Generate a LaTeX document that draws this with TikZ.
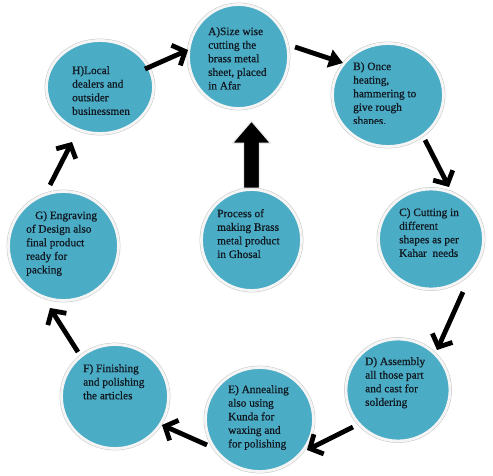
\documentclass[tikz,border=0pt]{standalone}
\usepackage{fontspec}
\setmainfont{Liberation Serif}[FakeBold=0.6]
\usetikzlibrary{arrows.meta,shapes.geometric}
\definecolor{cfill}{HTML}{4BACC6}
\definecolor{ctext}{HTML}{101820}
\begin{document}
\begin{tikzpicture}[x=1pt,y=-1pt,
  circ/.style={ellipse, fill=cfill, draw=white!92!gray, line width=2.8pt, inner sep=0pt,
    preaction={draw=gray!45, line width=3.8pt}},
  txt/.style={anchor=north west, inner sep=0pt, align=left, text=ctext,
    font=\fontsize{11.3}{13.6}\selectfont},
  arr/.style={line width=4.8pt, -{Straight Barb[length=10pt,width=22pt]}},
  arrT/.style={line width=4.8pt, -{Triangle[length=14pt,width=18pt]}}]
\useasboundingbox (0,0) rectangle (493,475);

% circles
\node[circ, minimum width=100pt, minimum height=104pt] (A) at (238.5,56.5) {};
\node[circ, minimum width=111pt, minimum height=103pt] (B) at (388,95) {};
\node[circ, minimum width=105pt, minimum height=100pt] (C) at (431,239) {};
\node[circ, minimum width=104pt, minimum height=102pt] (D) at (398,390) {};
\node[circ, minimum width=108pt, minimum height=104pt] (E) at (259.5,419.5) {};
\node[circ, minimum width=107pt, minimum height=104pt] (F) at (115,396.5) {};
\node[circ, minimum width=110pt, minimum height=109pt] (G) at (63.5,246) {};
\node[circ, minimum width=107pt, minimum height=93pt] (H) at (100,87) {};
\node[circ, minimum width=100pt, minimum height=101pt] (P) at (251.5,240) {};

% texts
\node[txt] (tA) at (208,27) {A)Size wise\\cutting the\\brass metal\\sheet, placed\\in Afar};
\begin{scope}
\clip (300,40) rectangle (460,123.5);
\node[txt] (tB) at (353,62) {B) Once\\heating,\\hammering to\\give rough\\shapes.};
\end{scope}
\node[txt] (tC) at (399,208) {C) Cutting in\\different\\shapes as per\\Kahar~~needs};
\node[txt] (tD) at (365,357) {D) Assembly\\all those part\\and cast for\\soldering};
\node[txt] (tE) at (228,385) {E) Annealing\\also using\\Kunda for\\waxing and\\for polishing};
\node[txt] (tF) at (83,364) {F) Finishing\\and polishing\\the articles};
\node[txt] (tG) at (26,211) {\hspace*{9pt}G) Engraving\\of Design also\\final product\\ready for\\packing};
\node[txt] (tH) at (72,66) {H)Local\\dealers and\\outsider\\businessmen};
\node[txt] (tP) at (217,209) {Process of\\making Brass\\metal product\\in Ghosal};

% block arrow from centre to A
\draw[fill=black, draw=white!85!gray, line width=1.2pt]
  ([shift={(-8,0)}]P.north) -- ([shift={(-8,-45)}]P.north) -- ([shift={(-19,-45)}]P.north)
  -- ([shift={(0,-67)}]P.north) -- ([shift={(19,-45)}]P.north) -- ([shift={(8,-45)}]P.north)
  -- ([shift={(8,0)}]P.north) -- cycle;

% cycle arrows
\draw[arr]  ([shift={(45,-18)}]H.center) -- ([shift={(-50.5,-6.5)}]A.center);
\draw[arrT] ([shift={(56.5,-9.5)}]A.center) -- ([shift={(-45,-32)}]B.center);
\draw[arr]  ([shift={(37,45)}]B.center) -- ([shift={(18,-52)}]C.center);
\draw[arr]  ([shift={(32,53)}]C.center) -- ([shift={(39,-40)}]D.center);
\draw[arr]  ([shift={(-45,37)}]D.center) -- ([shift={(47.5,30.5)}]E.center);
\draw[arr]  ([shift={(-52.5,25.5)}]E.center) -- ([shift={(47,28.5)}]F.center);
\draw[arr]  ([shift={(-37,-44.5)}]F.center) -- ([shift={(-13.5,62)}]G.center);
\draw[arr]  ([shift={(-13.5,-61)}]G.center) -- ([shift={(-28,55)}]H.center);
\end{tikzpicture}
\end{document}
